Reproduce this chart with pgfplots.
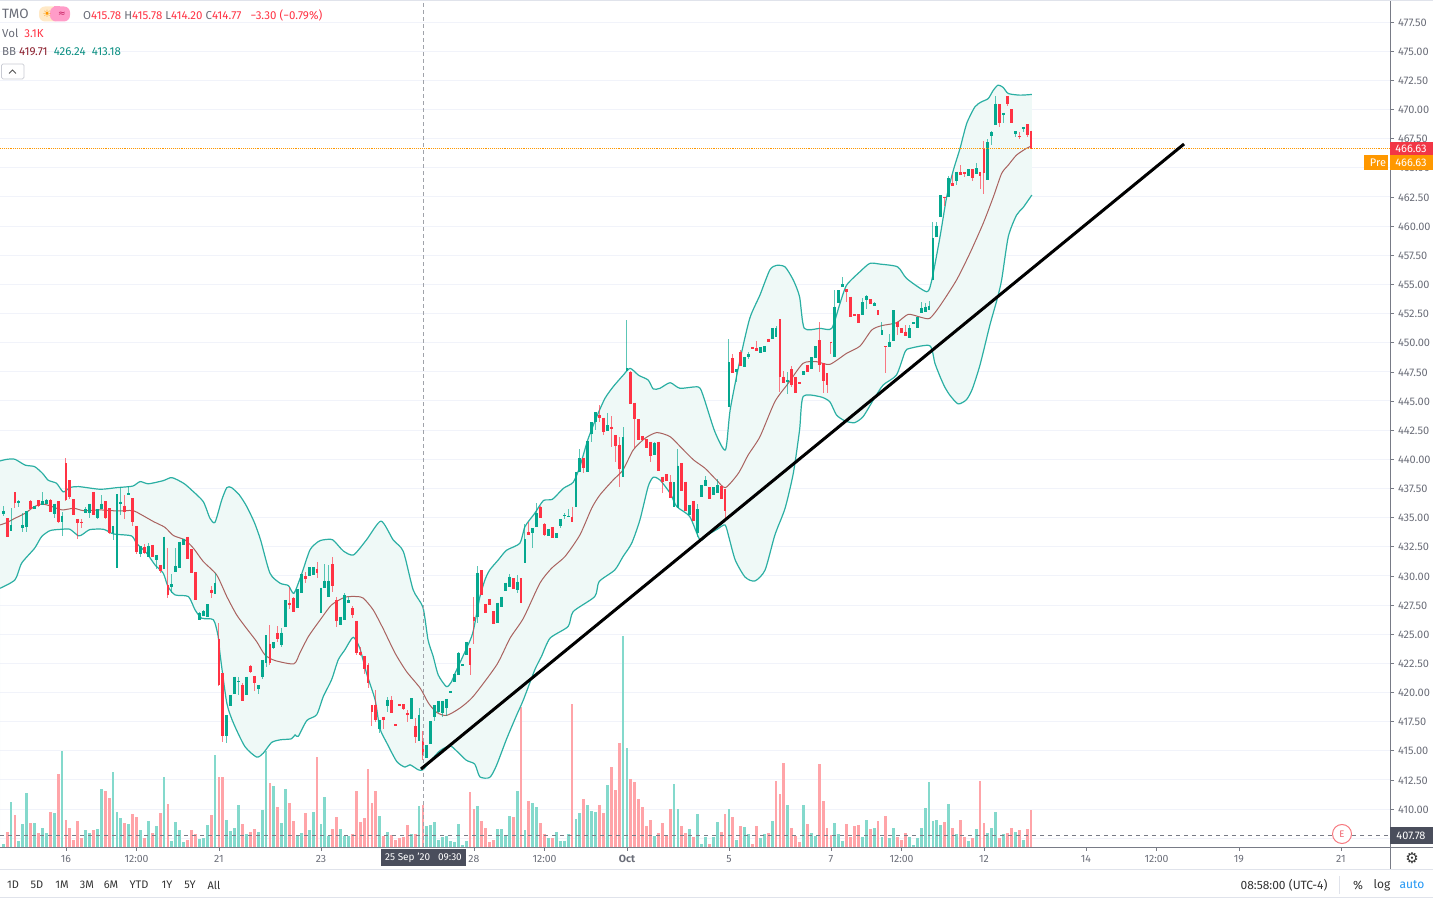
\documentclass[border=0pt]{standalone}
\usepackage{pgfplots}
\usepackage{pgfplotstable}
\usepackage{fontspec}
\pgfplotsset{compat=1.18}
\setmainfont{Fira Sans}
\newfontfamily\djv{DejaVu Sans}
\definecolor{upc}{HTML}{05A88F}
\definecolor{dnc}{HTML}{FF3344}
\definecolor{upv}{HTML}{84D9CC}
\definecolor{dnv}{HTML}{FFA4A8}
\definecolor{bandc}{HTML}{2BAFA3}
\definecolor{bandf}{HTML}{EFF9F7}
\definecolor{midc}{HTML}{A9625F}
\definecolor{gridc}{HTML}{F1F3FA}
\definecolor{axc}{HTML}{787B86}
\definecolor{txc}{HTML}{6A6D78}
\definecolor{boxc}{HTML}{4A4E5C}
\definecolor{oran}{HTML}{FF9800}
\definecolor{linec}{HTML}{E0E3EB}
\definecolor{beige}{HTML}{FFE9C7}
\definecolor{pinkp}{HTML}{FF9CC8}
\definecolor{pinkd}{HTML}{C2185B}
\definecolor{bbmid}{HTML}{8B1F2D}
\definecolor{bbband}{HTML}{0B8F82}
\definecolor{btnl}{HTML}{C9CBD3}
\definecolor{btnc}{HTML}{555555}
\definecolor{redlab}{HTML}{F23645}
\definecolor{ering}{HTML}{F7787F}
\definecolor{etxt}{HTML}{F0606A}
\definecolor{dark}{HTML}{333333}
\definecolor{bluet}{HTML}{2196F3}
% j top bot hi lo vol : up (close above open) bars, 30-minute bars
\pgfplotstableread{
j top bot hi lo v
0 435.6 435.3 436.0 435.1 10
2 434.37 433.89 435.8 433.89 135
4 436.4 436.25 436.5 435.9 18
5 434.37 434.09 435.37 433.8 68
6 435.6 434.17 435.6 433.8 163
8 436.0 435.74 436.0 435.7 72
10 436.4 436.1 437.2 436.1 58
11 436.5 436.2 436.6 436.2 41
13 436.2 435.3 436.2 435.0 101
15 435.1 434.6 435.5 433.4 288
21 435.7 435.4 435.9 435.4 51
22 436.2 435.4 436.2 435.0 41
24 435.7 435.0 435.7 434.9 55
25 436.2 435.7 436.9 435.7 173
28 434.3 433.66 434.3 433.09 225
29 437.0 430.66 437.0 430.66 105
30 436.37 436.17 437.66 435.2 87
32 437.1 436.9 437.7 436.9 68
35 432.57 431.9 432.57 431.6 51
37 432.57 431.66 432.8 431.66 77
39 431.8 431.37 431.8 430.57 63
41 433.37 430.57 433.37 430.57 211
43 429.3 429.09 430.17 428.57 18
44 430.86 430.37 432.37 430.37 75
45 432.94 430.66 432.94 430.66 51
46 433.2 432.66 433.2 432.66 15
50 426.8 426.23 426.9 426.23 25
51 427.0 426.57 427.1 426.57 27
52 427.57 426.5 427.57 426.5 65
54 429.43 428.46 430.23 428.46 276
57 418.09 416.23 418.09 415.66 81
58 419.8 418.8 419.8 418.8 47
59 421.37 419.9 421.37 419.9 57
60 421.0 420.86 421.37 419.8 125
62 421.37 419.8 421.37 419.8 39
65 420.66 420.31 420.66 419.9 46
66 422.8 421.37 422.8 421.2 111
67 424.89 422.57 424.89 422.2 288
69 424.34 423.8 424.34 423.7 183
71 425.14 424.09 425.5 423.94 72
72 427.94 425.6 427.94 425.6 173
75 428.86 427.23 428.86 427.23 33
76 430.17 428.5 430.17 428.5 41
78 430.74 430.0 430.74 430.0 51
79 430.74 430.09 430.74 430.09 105
81 429.0 426.8 429.0 426.8 69
82 429.6 429.0 431.0 429.0 151
83 429.6 428.23 430.9 428.23 33
86 426.5 425.8 426.5 425.8 53
87 428.37 426.2 428.57 426.2 33
88 427.89 427.7 428.2 427.7 33
96 417.66 416.9 417.66 416.5 93
98 419.37 418.8 419.6 418.37 45
104 419.5 417.7 419.5 417.7 38
106 418.09 415.8 418.66 415.8 123
108 415.5 414.37 415.5 414.37 63
109 417.57 415.6 417.57 415.6 65
110 418.89 417.94 418.89 417.57 75
111 419.3 418.37 419.3 418.2 21
112 419.31 418.23 419.31 417.94 31
113 419.46 418.66 419.46 418.0 33
114 420.14 419.94 420.14 419.94 18
115 421.57 420.94 421.57 420.94 15
116 423.43 421.46 423.5 421.46 68
117 422.42 422.3 422.45 422.3 7
118 424.37 423.23 424.37 423.23 18
121 430.29 426.46 430.86 426.0 123
126 427.7 426.0 427.7 426.0 53
127 428.23 427.29 428.23 427.29 53
128 429.43 428.74 429.43 428.74 33
129 429.94 429.09 430.17 429.09 93
131 429.51 428.8 430.09 428.5 168
133 433.17 431.09 434.43 431.09 50
135 434.09 433.71 434.09 432.43 132
136 435.37 434.17 436.23 434.17 120
139 434.03 433.46 434.03 433.46 27
141 433.66 433.29 433.66 433.29 45
142 434.86 434.31 434.86 434.1 19
143 435.2 435.1 435.4 434.9 19
144 435.17 435.03 435.71 435.03 38
146 438.89 435.89 438.89 435.89 84
147 440.09 438.89 440.89 438.89 101
149 441.6 438.94 441.6 438.94 126
150 443.17 442.17 443.17 441.5 108
151 444.03 443.23 444.03 442.5 105
154 442.94 442.46 443.94 442.46 186
158 441.89 438.51 442.8 438.51 633
159 447.8 447.6 451.95 447.6 297
166 441.43 440.37 441.5 440.37 33
171 438.03 435.9 438.03 435.9 189
172 439.46 435.8 440.86 435.8 113
175 436.09 435.23 436.09 435.23 53
177 435.71 433.66 436.2 433.3 98
178 437.8 436.74 437.8 436.74 9
179 438.23 437.74 438.57 437.74 29
181 437.6 436.94 437.6 436.94 29
182 437.8 437.09 438.29 437.09 75
185 448.31 444.51 450.31 444.51 113
187 447.74 447.51 447.74 446.66 21
189 448.74 447.94 448.74 447.94 60
190 449.0 448.8 449.2 448.6 39
193 449.6 449.09 449.6 449.09 27
194 449.71 449.23 449.71 449.23 39
196 451.23 450.31 451.23 450.31 78
197 451.29 450.46 451.4 450.46 0
200 446.8 446.67 447.5 445.6 126
204 447.57 447.23 447.57 447.23 126
206 448.74 447.71 448.74 447.71 43
207 449.71 448.66 449.71 448.66 33
212 453.09 448.74 454.51 448.74 72
213 454.51 453.37 454.51 453.37 39
214 455.0 454.8 455.6 454.8 19
219 453.46 452.37 453.8 452.37 29
220 454.0 453.66 454.09 452.89 81
222 453.37 453.14 453.45 453.14 57
224 451.09 450.66 451.8 450.66 30
226 450.09 449.6 450.74 449.6 27
227 452.8 450.17 452.8 450.17 56
231 451.23 450.37 451.5 450.37 31
232 451.76 451.64 451.76 451.64 7
233 452.17 451.23 452.17 451.23 27
234 453.0 452.51 453.51 452.51 56
235 453.09 452.6 453.37 452.6 117
236 453.17 452.8 453.57 452.8 195
237 459.0 455.37 460.37 455.37 77
238 460.03 459.09 460.37 459.09 80
239 462.66 460.8 462.66 460.8 65
241 464.14 462.51 464.3 462.51 128
243 464.66 463.86 464.66 463.51 39
246 464.89 464.29 464.89 464.29 19
248 464.94 464.46 465.37 464.46 54
251 467.17 463.94 467.51 463.94 41
252 468.03 467.74 468.14 466.94 57
253 470.51 468.66 471.14 468.66 104
255 469.74 469.51 469.74 468.86 39
258 468.14 467.86 468.14 467.6 45
260 468.51 468.29 468.51 468.1 21
}\upbars
% j top bot hi lo vol : down bars
\pgfplotstableread{
j top bot hi lo v
1 434.94 433.37 434.94 433.37 46
3 437.17 436.23 437.17 435.8 96
7 436.43 435.7 436.5 435.7 72
9 436.5 436.0 436.5 435.9 41
12 436.5 435.5 436.6 435.5 105
14 436.4 434.66 436.4 434.5 219
16 439.66 436.5 440.1 436.46 81
17 438.2 436.8 438.2 436.6 57
18 436.57 435.2 436.6 435.2 21
19 434.9 434.5 434.9 433.2 78
20 434.66 434.5 434.9 434.1 27
23 437.2 435.2 437.2 435.2 51
26 436.4 435.0 436.4 434.9 168
27 435.8 433.66 435.8 433.6 147
31 436.03 435.5 436.9 434.9 72
33 436.66 434.66 436.66 434.3 99
34 434.29 432.09 434.29 431.9 89
36 432.5 431.94 432.7 431.9 27
38 432.66 431.6 432.66 431.6 43
40 430.94 430.46 430.94 430.23 101
42 429.2 428.37 432.37 428.09 129
47 433.37 431.46 433.37 431.46 21
48 432.3 430.23 432.3 430.23 51
49 430.3 427.94 430.3 427.94 38
53 428.8 428.57 429.14 428.14 96
55 424.6 420.66 426.0 420.6 211
56 421.66 416.23 421.66 415.75 209
61 420.66 419.29 420.8 419.29 69
63 422.3 421.77 422.4 421.7 45
64 421.43 420.8 421.43 420.09 53
68 424.17 422.57 425.8 422.37 192
70 425.09 424.6 425.74 424.37 120
73 427.7 427.5 429.09 427.2 132
74 428.09 426.94 428.2 426.94 78
77 430.0 429.7 430.37 429.37 102
80 430.6 430.23 431.2 429.8 270
84 431.0 429.14 431.66 428.66 53
85 427.94 426.09 428.2 425.66 89
89 427.23 426.66 427.4 426.4 39
90 426.14 423.37 426.14 423.2 168
91 423.5 423.2 423.94 423.09 75
92 423.14 422.0 423.14 421.57 86
93 422.37 420.8 422.57 420.4 235
94 418.94 418.3 418.94 417.09 132
95 418.94 417.6 420.2 417.5 168
97 417.94 417.66 417.94 416.86 33
99 419.37 418.2 419.66 418.2 35
100 417.26 417.14 417.26 417.14 20
101 419.0 418.8 419.0 418.8 28
102 419.0 418.6 419.0 418.5 30
103 418.2 418.1 418.5 417.5 65
105 417.09 416.17 417.8 415.66 38
107 415.86 414.66 416.66 414.23 125
119 423.8 422.37 423.8 421.5 165
120 426.5 426.17 428.2 424.2 115
122 430.5 428.37 430.5 428.37 77
123 427.6 426.86 427.6 426.86 57
124 428.03 427.5 428.03 427.5 15
125 427.0 425.86 427.0 425.86 21
130 429.8 428.86 429.8 428.86 89
132 429.8 427.66 429.8 427.66 420
134 433.8 433.49 434.66 433.49 139
137 435.89 435.0 436.0 435.0 72
138 434.43 433.51 434.5 433.4 38
140 434.17 433.29 434.17 433.29 27
145 435.09 434.66 435.89 434.66 428
148 440.14 439.23 440.14 438.8 144
152 443.8 443.51 444.66 443.23 126
153 443.57 442.37 443.57 442.09 102
155 442.8 442.57 443.71 441.09 240
156 442.09 441.14 442.09 439.8 171
157 441.23 439.14 441.89 437.66 312
160 447.5 444.7 447.6 444.7 204
161 444.86 443.43 444.86 440.94 195
162 443.43 441.66 443.43 441.66 143
163 442.0 441.66 442.0 441.66 120
164 441.71 440.94 441.71 440.94 63
165 441.51 440.29 441.51 439.8 81
167 441.51 439.03 441.51 439.03 41
168 438.51 438.09 438.51 437.09 72
169 438.71 438.14 438.71 438.14 33
170 438.09 436.66 438.66 436.66 115
173 439.66 437.29 439.66 437.29 63
174 438.09 435.6 438.09 435.6 41
176 436.46 434.74 436.46 434.74 30
180 437.6 436.6 437.6 436.6 9
183 437.74 436.6 437.74 436.6 45
184 437.43 435.6 437.43 434.94 99
186 448.66 447.43 449.03 447.43 89
188 449.23 448.0 449.4 448.0 63
191 449.6 449.47 449.6 449.47 9
192 449.57 449.31 450.14 449.31 63
195 450.34 450.06 450.34 450.06 42
198 452.03 447.03 452.03 445.8 159
199 447.09 446.57 447.6 446.57 252
201 447.74 446.37 448.0 446.2 57
202 447.09 445.66 447.09 445.66 33
203 446.6 446.43 446.6 446.43 15
205 448.09 447.51 448.09 447.51 69
208 450.23 448.09 451.74 447.51 249
209 448.23 446.74 448.23 445.71 138
210 447.37 446.37 447.37 445.66 57
211 450.09 449.94 450.09 449.03 36
215 454.6 454.37 454.6 453.51 69
216 453.94 452.17 453.94 452.17 30
217 452.43 452.3 452.43 452.3 63
218 452.43 451.66 452.43 451.66 67
221 453.74 453.29 453.74 453.29 53
223 452.8 452.37 452.8 452.37 79
225 449.71 449.6 449.71 447.37 92
228 451.8 451.37 451.8 450.66 29
229 451.23 450.86 451.23 450.86 21
230 450.94 450.57 451.51 450.57 41
240 462.51 462.37 462.51 461.71 75
242 463.66 463.43 464.37 463.43 57
244 464.6 464.37 465.23 464.37 80
245 464.6 464.46 464.6 464.23 31
247 464.89 464.09 464.89 463.86 27
249 464.6 464.29 464.6 463.17 198
250 466.6 464.51 467.31 462.71 72
254 470.46 468.8 470.46 468.51 27
256 471.17 470.51 471.17 470.29 43
257 470.03 468.8 470.03 468.8 57
259 467.74 467.62 468.09 467.5 51
261 468.74 467.8 468.74 467.66 53
262 468.17 466.6 468.17 466.6 111
}\dnbars
\pgfplotsset{
  common/.style={at={(0pt,52pt)},anchor=south west,scale only axis,width=1390pt,height=847pt,
    xmin=-0.8157,xmax=353.5},
  price/.style={common,ymin=406.75,ymax=479.39},
  wick/.style={draw=none,mark=none,forget plot,
    error bars/.cd,y dir=both,y explicit,error mark=none,
    error bar style={solid,line width=1pt,color=#1,opacity=.65}},
  body/.style={draw=none,mark=none,forget plot,
    error bars/.cd,y dir=both,y explicit,error mark=none,
    error bar style={solid,line width=2.8pt,color=#1}},
}
\begin{document}
\begin{tikzpicture}
% grid and price scale
\begin{axis}[price,
  axis x line*=bottom,axis y line*=right,
  axis line style={draw=axc,line width=.8pt,-},
  tick style={draw=axc,line width=.6pt},
  tick align=outside,major tick length=4pt,
  ytick={407.5,410,412.5,415,417.5,420,422.5,425,427.5,430,432.5,435,437.5,440,442.5,445,447.5,450,452.5,455,457.5,460,462.5,465,467.5,470,472.5,475,477.5},
  ymajorgrids,major grid style={draw=gridc,line width=1pt},
  yticklabel style={font=\fontsize{11}{13}\selectfont,text=txc,
    /pgf/number format/fixed,/pgf/number format/fixed zerofill,/pgf/number format/precision=2,
    /pgf/number format/assume math mode=true,xshift=0.5pt,yshift=-0.5pt},
  xtick={16,34,55,81,120,138,159,185,211,229,250,276,294,315,341},
  xticklabels={16,12:00,21,23,28,12:00,\textbf{Oct},5,7,12:00,12,14,12:00,19,21},
  xticklabel style={font=\fontsize{10.5}{12}\selectfont,text=txc,yshift=-1pt},
]
\addplot[draw=none,mark=none,forget plot] coordinates {(0,420)(1,430)};
\end{axis}
% volume
\begin{axis}[common,hide axis,ymin=0,ymax=2541]
\addplot[ycomb,mark=none,color=upv,line width=2.8pt] table[x=j,y=v]{\upbars};
\addplot[ycomb,mark=none,color=dnv,line width=2.8pt] table[x=j,y=v]{\dnbars};
\addplot[ycomb,mark=none,color=dnv,line width=2.8pt] coordinates {(197,199)};
\end{axis}
% price panel
\begin{axis}[price,hide axis,clip=true]
% band area: upper band forward, lower band back
\addplot[fill=bandf,draw=none,forget plot,mark=none] coordinates {
(-0.8,439.86)(1,440.0)(3,440.0)(5.6,439.5)(8,439.37)(10,438.8)(11.5,438.2)(13.6,437.94)(15.3,437.2)(17,437.57)(19.2,437.66)(24.7,437.43)(29,437.57)(33,437.7)(34.9,438.09)(37,437.9)(40.8,438.17)(43,438.43)(46,437.94)(48,437.37)(51,436.37)(52.7,434.94)(54,434.6)(55.7,436.51)(57,437.57)(58.2,437.57)(60.2,436.94)(62,436.0)(64,434.6)(65.6,433.09)(68,430.23)(70.6,429.37)(72.7,429.17)(74.1,428.5)(76,430.09)(78.2,432.23)(80.3,432.94)(81.6,433.09)(84,433.09)(86.7,432.14)(89.3,431.8)(92.6,433.09)(96.3,434.7)(99.4,433.09)(102,432.09)(104.5,428.8)(107,427.3)(108.3,424.5)(109.6,423.1)(110.9,421.5)(113,420.5)(114.3,420.94)(115.2,421.66)(119.4,424.8)(120.7,426.8)(121.5,428.2)(122.8,429.66)(124,430.5)(126.2,431.37)(128.3,432.2)(131.7,432.8)(133,434.23)(135.5,435.37)(137.7,436.46)(140,436.57)(142.8,437.51)(145.3,438.03)(147,439.37)(149,441.66)(151.3,443.66)(153.4,445.23)(155.5,446.23)(158,447.2)(159.8,447.8)(162,447.2)(164.4,446.8)(165.7,446.03)(167.4,446.09)(170,446.57)(172.5,446.09)(177.2,446.2)(178.5,445.37)(181.4,442.37)(184.1,440.8)(185.3,444.23)(187.8,448.51)(190.3,452.09)(192.9,454.09)(195.4,456.23)(197.1,456.63)(199.3,456.5)(201.4,455.37)(203,453.94)(204.2,451.23)(208.2,451.23)(211.2,451.23)(213.3,453.37)(215,454.94)(218.4,456.09)(220.9,456.8)(223.5,456.74)(228,456.5)(230.3,455.5)(235.4,454.37)(236.7,455.37)(238.8,459.09)(240.5,462.51)(242.2,464.8)(243.9,466.66)(245.6,468.8)(247.7,470.23)(249.4,470.66)(251.1,470.94)(252.4,471.66)(253.6,472.09)(254.9,471.89)(256.2,471.37)(259.2,471.23)(262.2,471.29)
(262.2,462.66)(260,461.6)(258.3,460.94)(256.2,459.09)(254.5,455.37)(253.3,453.66)(251.5,451.5)(249,448.1)(247,446.0)(245.5,445.1)(243.4,444.75)(241.3,445.5)(240,446.2)(238.8,447.1)(237.5,448.23)(236.2,449.74)(231.1,449.51)(229.9,449.23)(227.7,447.23)(224.3,446.37)(221.8,445.09)(219.2,443.66)(217,443.14)(214.6,443.29)(212.4,443.8)(210.7,444.94)(208.2,445.37)(203.9,445.37)(203,442.51)(201.4,438.8)(199.3,435.8)(196.7,433.5)(194.2,430.5)(191.6,429.56)(189.1,429.9)(186.6,431.36)(185,433.3)(184,434.37)(182,434.0)(179.5,433.5)(177.6,433.09)(175,435.09)(171.7,435.94)(170,437.09)(167.4,438.23)(165.7,438.46)(164.4,437.66)(162.3,434.8)(160.2,432.8)(158,431.66)(155.9,430.51)(151.9,429.51)(150.8,428.23)(145.3,426.94)(144,425.66)(139.4,424.66)(137.2,423.09)(135.5,421.94)(132.6,419.37)(130.8,418.0)(128.3,416.0)(125.7,413.71)(124,412.71)(121.5,412.77)(120.2,413.86)(118,414.2)(115.1,415.14)(113.8,415.43)(111.3,415.0)(108.8,414.09)(107,413.37)(105.8,413.37)(103.7,413.8)(102.4,413.6)(100.3,414.09)(97.8,415.66)(96,416.94)(94.8,419.37)(92.6,421.66)(90.9,423.8)(89.2,424.74)(87.1,423.66)(85.4,422.8)(83.7,421.09)(81.6,419.66)(79.9,418.09)(77.4,417.6)(75.2,416.23)(74.4,416.37)(73.5,416.03)(70.6,415.94)(68.4,415.71)(66.3,414.8)(64.6,414.46)(61.6,415.37)(58.7,417.37)(57,419.09)(55.3,423.23)(54.8,424.8)(53.6,426.23)(50.6,426.37)(48.9,427.09)(47.2,428.23)(43.8,428.37)(42,429.09)(40.8,430.23)(38.7,430.94)(36.6,431.94)(34,432.8)(32.7,433.43)(28.5,433.57)(27.6,433.66)(25.5,434.0)(22.1,433.97)(20.4,433.6)(19.2,433.43)(17,434.0)(15,434.0)(12,433.89)(9.8,433.37)(8,432.37)(4.7,431.09)(3,429.66)(-0.8,428.94)} \closedcycle;
% upper band
\addplot[color=bandc,line width=1.2pt,line join=round,smooth,tension=0.4,mark=none] coordinates {
(-0.8,439.86)(1,440.0)(3,440.0)(5.6,439.5)(8,439.37)(10,438.8)(11.5,438.2)(13.6,437.94)(15.3,437.2)(17,437.57)(19.2,437.66)(24.7,437.43)(29,437.57)(33,437.7)(34.9,438.09)(37,437.9)(40.8,438.17)(43,438.43)(46,437.94)(48,437.37)(51,436.37)(52.7,434.94)(54,434.6)(55.7,436.51)(57,437.57)(58.2,437.57)(60.2,436.94)(62,436.0)(64,434.6)(65.6,433.09)(68,430.23)(70.6,429.37)(72.7,429.17)(74.1,428.5)(76,430.09)(78.2,432.23)(80.3,432.94)(81.6,433.09)(84,433.09)(86.7,432.14)(89.3,431.8)(92.6,433.09)(96.3,434.7)(99.4,433.09)(102,432.09)(104.5,428.8)(107,427.3)(108.3,424.5)(109.6,423.1)(110.9,421.5)(113,420.5)(114.3,420.94)(115.2,421.66)(119.4,424.8)(120.7,426.8)(121.5,428.2)(122.8,429.66)(124,430.5)(126.2,431.37)(128.3,432.2)(131.7,432.8)(133,434.23)(135.5,435.37)(137.7,436.46)(140,436.57)(142.8,437.51)(145.3,438.03)(147,439.37)(149,441.66)(151.3,443.66)(153.4,445.23)(155.5,446.23)(158,447.2)(159.8,447.8)(162,447.2)(164.4,446.8)(165.7,446.03)(167.4,446.09)(170,446.57)(172.5,446.09)(177.2,446.2)(178.5,445.37)(181.4,442.37)(184.1,440.8)(185.3,444.23)(187.8,448.51)(190.3,452.09)(192.9,454.09)(195.4,456.23)(197.1,456.63)(199.3,456.5)(201.4,455.37)(203,453.94)(204.2,451.23)(208.2,451.23)(211.2,451.23)(213.3,453.37)(215,454.94)(218.4,456.09)(220.9,456.8)(223.5,456.74)(228,456.5)(230.3,455.5)(235.4,454.37)(236.7,455.37)(238.8,459.09)(240.5,462.51)(242.2,464.8)(243.9,466.66)(245.6,468.8)(247.7,470.23)(249.4,470.66)(251.1,470.94)(252.4,471.66)(253.6,472.09)(254.9,471.89)(256.2,471.37)(259.2,471.23)(262.2,471.29)};
% lower band
\addplot[color=bandc,line width=1.2pt,line join=round,smooth,tension=0.4,mark=none] coordinates {
(-0.8,428.94)(3,429.66)(4.7,431.09)(8,432.37)(9.8,433.37)(12,433.89)(15,434.0)(17,434.0)(19.2,433.43)(20.4,433.6)(22.1,433.97)(25.5,434.0)(27.6,433.66)(28.5,433.57)(32.7,433.43)(34,432.8)(36.6,431.94)(38.7,430.94)(40.8,430.23)(42,429.09)(43.8,428.37)(47.2,428.23)(48.9,427.09)(50.6,426.37)(53.6,426.23)(54.8,424.8)(55.3,423.23)(57,419.09)(58.7,417.37)(61.6,415.37)(64.6,414.46)(66.3,414.8)(68.4,415.71)(70.6,415.94)(73.5,416.03)(74.4,416.37)(75.2,416.23)(77.4,417.6)(79.9,418.09)(81.6,419.66)(83.7,421.09)(85.4,422.8)(87.1,423.66)(89.2,424.74)(90.9,423.8)(92.6,421.66)(94.8,419.37)(96,416.94)(97.8,415.66)(100.3,414.09)(102.4,413.6)(103.7,413.8)(105.8,413.37)(107,413.37)(108.8,414.09)(111.3,415.0)(113.8,415.43)(115.1,415.14)(118,414.2)(120.2,413.86)(121.5,412.77)(124,412.71)(125.7,413.71)(128.3,416.0)(130.8,418.0)(132.6,419.37)(135.5,421.94)(137.2,423.09)(139.4,424.66)(144,425.66)(145.3,426.94)(150.8,428.23)(151.9,429.51)(155.9,430.51)(158,431.66)(160.2,432.8)(162.3,434.8)(164.4,437.66)(165.7,438.46)(167.4,438.23)(170,437.09)(171.7,435.94)(175,435.09)(177.6,433.09)(179.5,433.5)(182,434.0)(184,434.37)(185,433.3)(186.6,431.36)(189.1,429.9)(191.6,429.56)(194.2,430.5)(196.7,433.5)(199.3,435.8)(201.4,438.8)(203,442.51)(203.9,445.37)(208.2,445.37)(210.7,444.94)(212.4,443.8)(214.6,443.29)(217,443.14)(219.2,443.66)(221.8,445.09)(224.3,446.37)(227.7,447.23)(229.9,449.23)(231.1,449.51)(236.2,449.74)(237.5,448.23)(238.8,447.1)(240,446.2)(241.3,445.5)(243.4,444.75)(245.5,445.1)(247,446.0)(249,448.1)(251.5,451.5)(253.3,453.66)(254.5,455.37)(256.2,459.09)(258.3,460.94)(260,461.6)(262.2,462.66)};
% middle band
\addplot[color=midc,line width=1pt,line join=round,smooth,tension=0.4,mark=none] coordinates {
(-0.8,434.37)(0.9,434.57)(3,434.94)(5.6,435.37)(7.7,435.89)(9.8,436.17)(12,436.0)(15,435.66)(18,435.8)(20.4,435.6)(24.7,435.66)(29,435.57)(33,435.6)(35.3,435.23)(38.3,434.66)(41.2,434.17)(43.4,433.46)(46.3,433.09)(48.5,432.37)(51,431.23)(54.4,430.09)(57,428.23)(59.5,426.66)(62,425.51)(64.6,424.37)(66.7,423.23)(69.3,422.74)(74.1,422.46)(75.6,423.37)(77.8,424.8)(80.8,426.23)(83.7,427.51)(87.1,428.17)(90.1,428.23)(91.8,428.09)(94.3,427.09)(96.8,425.51)(99.9,423.37)(102.8,421.8)(106.3,420.37)(108.4,419.09)(110.5,418.29)(113,418.03)(116.4,418.66)(119.8,419.66)(125.8,422.37)(129.2,424.66)(132.6,426.37)(136.8,429.37)(139.8,430.66)(143.2,431.66)(147,433.51)(150,435.8)(152.1,436.94)(155.5,438.23)(158,439.09)(160.6,440.8)(163.6,441.8)(166.6,442.29)(170,441.94)(173,440.94)(176,439.94)(178.9,439.23)(181.8,438.23)(184.1,437.57)(187.4,438.8)(189.9,440.37)(192.9,441.94)(196.7,444.94)(200.1,446.51)(203.9,448.23)(207.3,448.37)(210.7,448.14)(215,449.09)(218.4,449.71)(221.4,451.09)(223.9,451.46)(227.7,451.71)(230.7,452.43)(234,452.17)(236.2,452.09)(238.8,453.17)(243,455.37)(246.4,457.66)(249.8,460.23)(252.4,462.51)(254.5,464.51)(256.2,465.23)(258.3,466.09)(260.8,466.66)(262.2,466.89)};
% candles
\addplot[wick=upc] table[x=j,y=top,y error plus expr=\thisrow{hi}-\thisrow{top},y error minus expr=\thisrow{top}-\thisrow{lo}]{\upbars};
\addplot[wick=dnc] table[x=j,y=top,y error plus expr=\thisrow{hi}-\thisrow{top},y error minus expr=\thisrow{top}-\thisrow{lo}]{\dnbars};
\addplot[body=upc] table[x=j,y=top,y error plus expr=0,y error minus expr=\thisrow{top}-\thisrow{bot}]{\upbars};
\addplot[body=dnc] table[x=j,y=top,y error plus expr=0,y error minus expr=\thisrow{top}-\thisrow{bot}]{\dnbars};
% reference lines
\addplot[color=oran,line width=.9pt,densely dotted,mark=none] coordinates {(-0.8157,466.63)(353.5,466.63)};
\addplot[color=axc,line width=.7pt,dash pattern=on 4pt off 4pt,mark=none] coordinates {(-0.8157,407.78)(353.5,407.78)};
\addplot[color=axc!70,line width=.9pt,dash pattern=on 4pt off 3pt,mark=none] coordinates {(107,406.75)(107,479.39)};
% trend line
\addplot[color=black,line width=3pt,mark=none] coordinates {(106.5,413.44)(301,467.04)};
\end{axis}
% pixel-coordinate overlays
\begin{scope}[x=1pt,y=-1pt,yshift=899pt,
  t/.style={inner sep=0pt,anchor=west,font=\fontsize{11.5}{13}\selectfont,text=txc},
  c/.style={inner sep=0pt,anchor=center,font=\fontsize{11}{13}\selectfont}]
\draw[axc,line width=.8pt] (0,847) -- (1433,847);
\draw[linec,line width=1pt] (0,869.5) -- (1433,869.5);
\draw[linec,line width=1pt] (0,897.5) -- (1433,897.5);
\draw[linec,line width=.8pt] (0,0.4) -- (1433,0.4);
\draw[axc,line width=.8pt] (1390,847) -- (1390,869);
% header
\node[t,font=\fontsize{13.5}{15}\selectfont] at (2,14) {TMO};
\fill[beige,rounded corners=6pt] (39,6.5) rectangle (60,21.5);
\fill[pinkp,rounded corners=6pt] (50,6.5) rectangle (70,21.5);
\fill[pinkp] (54,6.5) rectangle (60,21.5);
\node[c,text=oran,font=\djv\fontsize{10}{12}\selectfont] at (47,14) {☀};
\node[c,text=pinkd,font=\djv\fontsize{9}{11}\selectfont] at (62,14) {≈};
\node[t] at (83,15) {O\textcolor{dnc}{415.78}\ H\textcolor{dnc}{415.78}\ L\textcolor{dnc}{414.20}\ C\textcolor{dnc}{414.77}\ \ \ \textcolor{dnc}{−3.30 (−0.79\%)}};
\node[t] at (2,33) {Vol\ \ \textcolor{dnc}{3.1K}};
\node[t] at (2,52) {BB\ \textcolor{bbmid}{419.71}\ \ \textcolor{bbband}{426.24}\ \ \textcolor{bbband}{413.18}};
\draw[btnl,fill=white,rounded corners=1.5pt,line width=.7pt] (1.5,64) rectangle (24,79);
\draw[btnc,line width=1pt] (9,73.5) -- (12.5,70) -- (16,73.5);
% scale labels
\fill[redlab] (1390,142) rectangle (1433,155);
\node[c,text=white] at (1411,148.5) {466.63};
\fill[oran] (1390,155) rectangle (1433,170.5);
\node[c,text=white] at (1411,163) {466.63};
\fill[oran] (1364,155) rectangle (1388,170.5);
\node[c,text=white] at (1378,163) {Pre};
\fill[boxc] (1390,827) rectangle (1433,844);
\node[c,text=white] at (1411,835.5) {407.78};
\fill[boxc] (381,849) rectangle (466,866);
\node[c,text=white,font=\fontsize{10}{12}\selectfont] at (423.5,857.5) {25 Sep '20\ \ \ 09:30};
\draw[ering,fill=white,line width=1pt] (1342,834) circle (9.5);
\node[c,text=etxt,font=\fontsize{9.5}{11}\selectfont] at (1342,834) {E};
\node[c,text=dark,font=\djv\fontsize{15}{16}\selectfont] at (1412,858.5) {⚙};
% bottom bar
\foreach \x/\s in {13/1D,37/5D,62/1M,87/3M,111/6M,139/YTD,167/1Y,190/5Y,214/All}
  \node[c,text=dark] at (\x,885) {\s};
\node[c,text=dark,font=\fontsize{12}{14}\selectfont] at (1284,885) {08:58:00 (UTC-4)};
\draw[linec,line width=.8pt] (1339.5,876) -- (1339.5,894);
\node[c,text=dark,font=\fontsize{12}{14}\selectfont] at (1358,885) {\%};
\node[c,text=dark,font=\fontsize{12}{14}\selectfont] at (1382,885) {log};
\node[c,text=bluet,font=\fontsize{12}{14}\selectfont] at (1412,885) {auto};
\end{scope}
\pgfresetboundingbox
\path (0,0) rectangle (1433pt,899pt);
\end{tikzpicture}
\end{document}
